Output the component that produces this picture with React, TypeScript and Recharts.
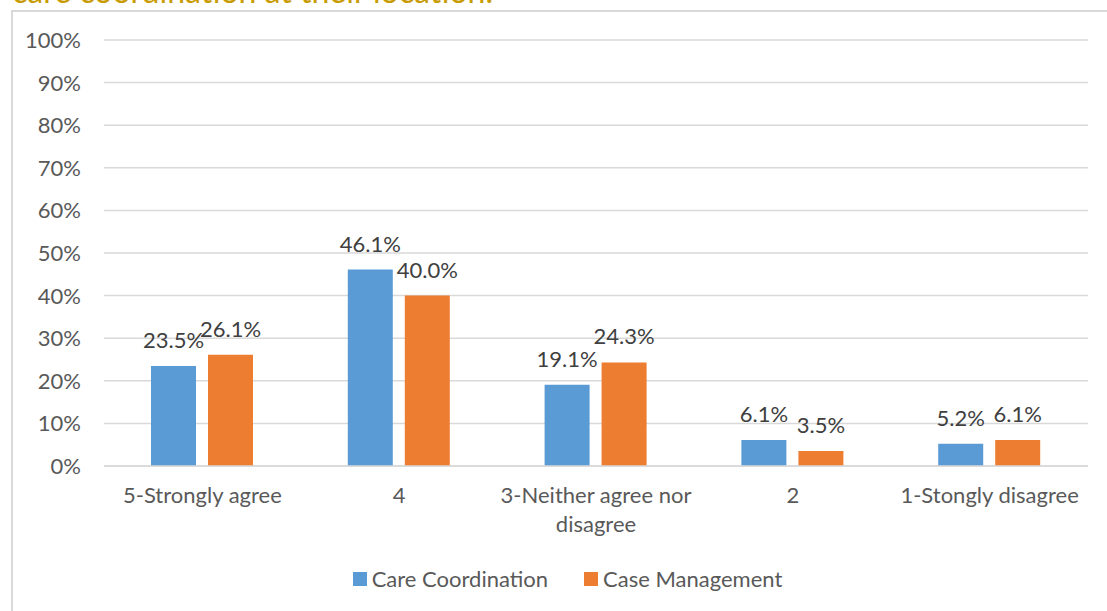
import React from "react";
import { BarChart, Bar, XAxis, YAxis, CartesianGrid, LabelList } from "recharts";

const categories = ["5-Strongly agree", "4", "3-Neither agree nor disagree", "2", "1-Stongly disagree"];
const careCoordination = [23.5, 46.1, 19.1, 6.1, 5.2];
const caseManagement = [26.1, 40.0, 24.3, 3.5, 6.1];
const yTicks = [0, 10, 20, 30, 40, 50, 60, 70, 80, 90, 100];
const seriesNames = ["Care Coordination", "Case Management"];
const titleText = "care coordination at their location.";

const data = categories.map((c, i) => ({
  name: c,
  cc: careCoordination[i],
  cm: caseManagement[i],
}));

const FONT = "Lato, 'Liberation Sans', sans-serif";
const BLUE = "#5B9BD5";
const ORANGE = "#ED7D31";
const FS = 22;

function wrap(text: string, max: number): string[] {
  const words = text.split(" ");
  const lines: string[] = [];
  let cur = "";
  for (const w of words) {
    const next = cur ? cur + " " + w : w;
    if (next.length > max && cur) {
      lines.push(cur);
      cur = w;
    } else cur = next;
  }
  if (cur) lines.push(cur);
  return lines;
}

const CatTick = (props: any) => {
  const { x, y, payload } = props;
  const lines = wrap(String(payload.value), 20);
  return (
    <text x={x} y={y} textAnchor="middle" fill="#595959" fontSize={FS} fontFamily={FONT}>
      {lines.map((l, i) => (
        <tspan key={i} x={x} dy={i === 0 ? 37 : 29}>
          {l}
        </tspan>
      ))}
    </text>
  );
};

const YTick = (props: any) => {
  const { x, y, payload } = props;
  return (
    <text x={x} y={y} dy={8} textAnchor="end" fill="#595959" fontSize={FS} fontFamily={FONT}>
      {`${payload.value}%`}
    </text>
  );
};

const ValueLabel = (props: any) => {
  const { x, y, width, value } = props;
  return (
    <text x={x + width / 2} y={y - 18} textAnchor="middle" fill="#404040" fontSize={FS} fontFamily={FONT}>
      {`${Number(value).toFixed(1)}%`}
    </text>
  );
};

const LegendBox = () => (
  <div
    style={{
      position: "absolute",
      left: 14,
      width: 1107,
      top: 565,
      display: "flex",
      justifyContent: "center",
      fontFamily: FONT,
      fontSize: FS,
      color: "#595959",
    }}
  >
    {seriesNames.map((n, i) => (
      <div key={n} style={{ display: "flex", alignItems: "center", marginLeft: i === 0 ? 0 : 36 }}>
        <div style={{ width: 14, height: 14, background: i === 0 ? BLUE : ORANGE, marginRight: 5 }} />
        <span>{n}</span>
      </div>
    ))}
  </div>
);

export default function App() {
  return (
    <div
      style={{
        position: "fixed",
        left: 0,
        top: 0,
        width: 1107,
        height: 611,
        background: "#fff",
        overflow: "hidden",
      }}
    >
      <svg style={{ position: "absolute", left: 0, top: 0 }} width={1107} height={20}>
        <text x={12} y={3} fill="#C89B00" fontSize={32} fontFamily={FONT}>
          {titleText}
        </text>
      </svg>
      <div
        style={{
          position: "absolute",
          left: 11,
          top: 10,
          width: 1120,
          height: 640,
          border: "2px solid #D9D9D9",
          boxSizing: "border-box",
        }}
      />
      <div style={{ position: "absolute", left: 0, top: 0 }}>
        <BarChart
          width={1107}
          height={611}
          data={data}
          margin={{ top: 40, right: 19, bottom: 0, left: 0 }}
          barSize={45}
          barGap={12}
        >
          <CartesianGrid vertical={false} stroke="#D9D9D9" strokeWidth={1.5} />
          <XAxis
            dataKey="name"
            axisLine={{ stroke: "#D9D9D9", strokeWidth: 1.5 }}
            tickLine={false}
            tickSize={0}
            tickMargin={0}
            interval={0}
            height={145}
            tick={<CatTick />}
          />
          <YAxis
            width={104}
            domain={[0, 100]}
            ticks={yTicks}
            axisLine={false}
            tickLine={false}
            tickSize={0}
            tickMargin={23}
            interval={0}
            tick={<YTick />}
          />
          <Bar dataKey="cc" fill={BLUE} isAnimationActive={false}>
            <LabelList dataKey="cc" content={<ValueLabel />} />
          </Bar>
          <Bar dataKey="cm" fill={ORANGE} isAnimationActive={false}>
            <LabelList dataKey="cm" content={<ValueLabel />} />
          </Bar>
        </BarChart>
      </div>
      <LegendBox />
    </div>
  );
}
